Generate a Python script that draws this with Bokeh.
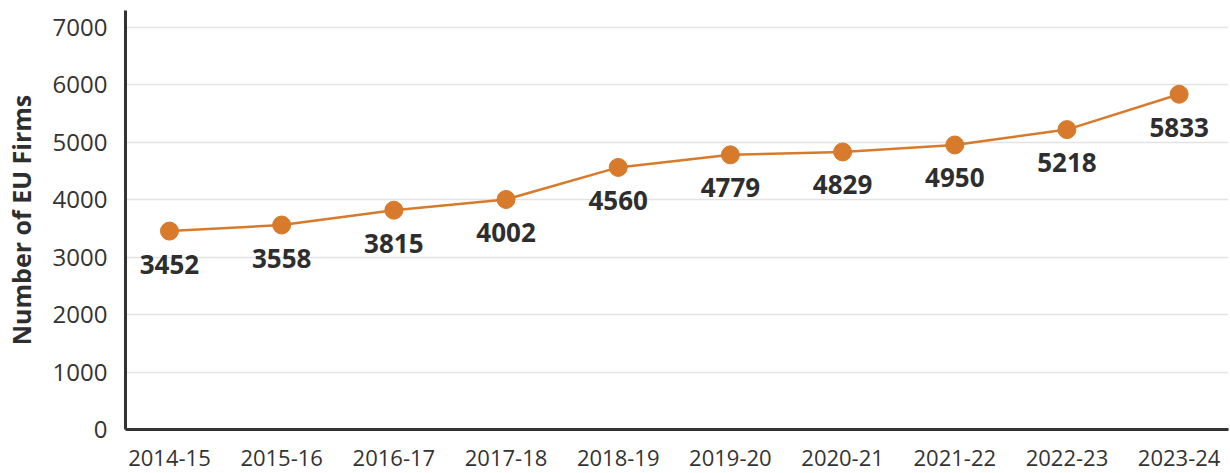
from bokeh.plotting import figure
from bokeh.models import Range1d, FixedTicker, ColumnDataSource
from bokeh.core.properties import value
from bokeh.embed import file_html
from bokeh.resources import INLINE

years = ["2014-15", "2015-16", "2016-17", "2017-18", "2018-19",
         "2019-20", "2020-21", "2021-22", "2022-23", "2023-24"]
firms = [3452, 3558, 3815, 4002, 4560, 4779, 4829, 4950, 5218, 5833]
y_ticks = [0, 1000, 2000, 3000, 4000, 5000, 6000, 7000]

FONT = "Open Sans"
ORANGE = "#D77A2C"
DARK = "#2E2E2E"

xs = list(range(len(years)))
src = ColumnDataSource(dict(x=xs, y=firms, lab=[str(v) for v in firms]))

p = figure(width=1230, height=473, output_backend="svg", toolbar_location=None,
           x_range=Range1d(-0.392, 9.44), y_range=Range1d(0, 7290),
           min_border_left=124, min_border_right=2, min_border_top=10, min_border_bottom=44)
p.outline_line_color = None
p.background_fill_color = "white"
p.border_fill_color = "white"

p.xgrid.grid_line_color = None
p.ygrid.grid_line_color = "#E3E3E3"
p.ygrid.grid_line_width = 1.5

p.xaxis.ticker = FixedTicker(ticks=xs)
p.xaxis.major_label_overrides = {i: y for i, y in enumerate(years)}
p.yaxis.ticker = FixedTicker(ticks=y_ticks)
p.ygrid.ticker = FixedTicker(ticks=y_ticks)

for ax in (p.xaxis[0], p.yaxis[0]):
    ax.axis_line_color = "#333333"
    ax.axis_line_width = 3
    ax.major_tick_line_color = None
    ax.minor_tick_line_color = None
    ax.major_label_text_font = FONT
    ax.major_label_text_color = "#333333"

p.xaxis.major_label_text_font_size = "22px"
p.yaxis.major_label_text_font_size = "24px"
p.xaxis.major_label_standoff = 14
p.yaxis.major_label_standoff = 12
p.yaxis.axis_label = "Number of EU Firms"
p.yaxis.axis_label_text_font = FONT
p.yaxis.axis_label_text_font_style = "bold"
p.yaxis.axis_label_text_font_size = "25px"
p.yaxis.axis_label_text_color = DARK
p.yaxis.axis_label_standoff = 12

p.line("x", "y", source=src, line_color=ORANGE, line_width=2.5)
p.scatter("x", "y", source=src, size=18, fill_color=ORANGE, line_color=ORANGE)
p.text("x", "y", text="lab", source=src, y_offset=33, text_align="center",
       text_baseline="middle", text_font=value(FONT), text_font_style="bold",
       text_font_size="26px", text_color=DARK)

open("out.html", "w").write(file_html(p, INLINE))
